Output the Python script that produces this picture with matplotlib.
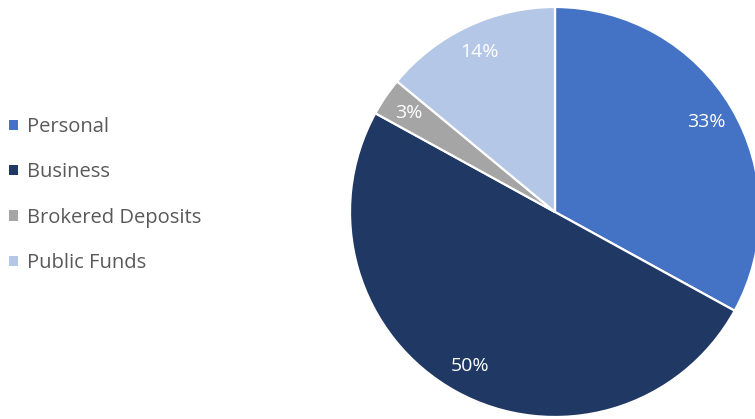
import numpy as np
import matplotlib.pyplot as plt

# deposit mix
categories = ['Personal', 'Business', 'Brokered Deposits', 'Public Funds']
shares = [33, 50, 3, 14]
colors = ['#4472C4', '#203864', '#A5A5A5', '#B4C7E7']

plt.rcParams['font.family'] = ['Open Sans', 'DejaVu Sans']

fig = plt.figure(figsize=(7.55, 4.19), dpi=100)
# pie centred at (555, 212) px with radius 205 px
cx, cy, r = 555, 212, 205
ax = fig.add_axes([(cx - r) / 755, (419 - cy - r) / 419, 2 * r / 755, 2 * r / 419])

wedges, texts, autotexts = ax.pie(
    shares, colors=colors, startangle=90, counterclock=False,
    autopct='%1.0f%%', pctdistance=0.86,
    wedgeprops=dict(edgecolor='white', linewidth=1.6),
    textprops=dict(color='white', fontsize=14))
for w in wedges:
    w.set_clip_on(False)
ax.set_xlim(-1, 1)
ax.set_ylim(-1, 1)
ax.set_aspect('equal')

leg = fig.legend(wedges, categories, loc='center left',
                 bbox_to_anchor=(0.0, (419 - 195) / 419), frameon=False,
                 fontsize=14.5, handlelength=0.42, handleheight=0.42,
                 handletextpad=0.45, labelspacing=1.26, borderaxespad=0.05)
for t in leg.get_texts():
    t.set_color('#595959')
for h in leg.legend_handles:
    h.set_edgecolor('none')

fig.savefig('out.png', dpi=100)
